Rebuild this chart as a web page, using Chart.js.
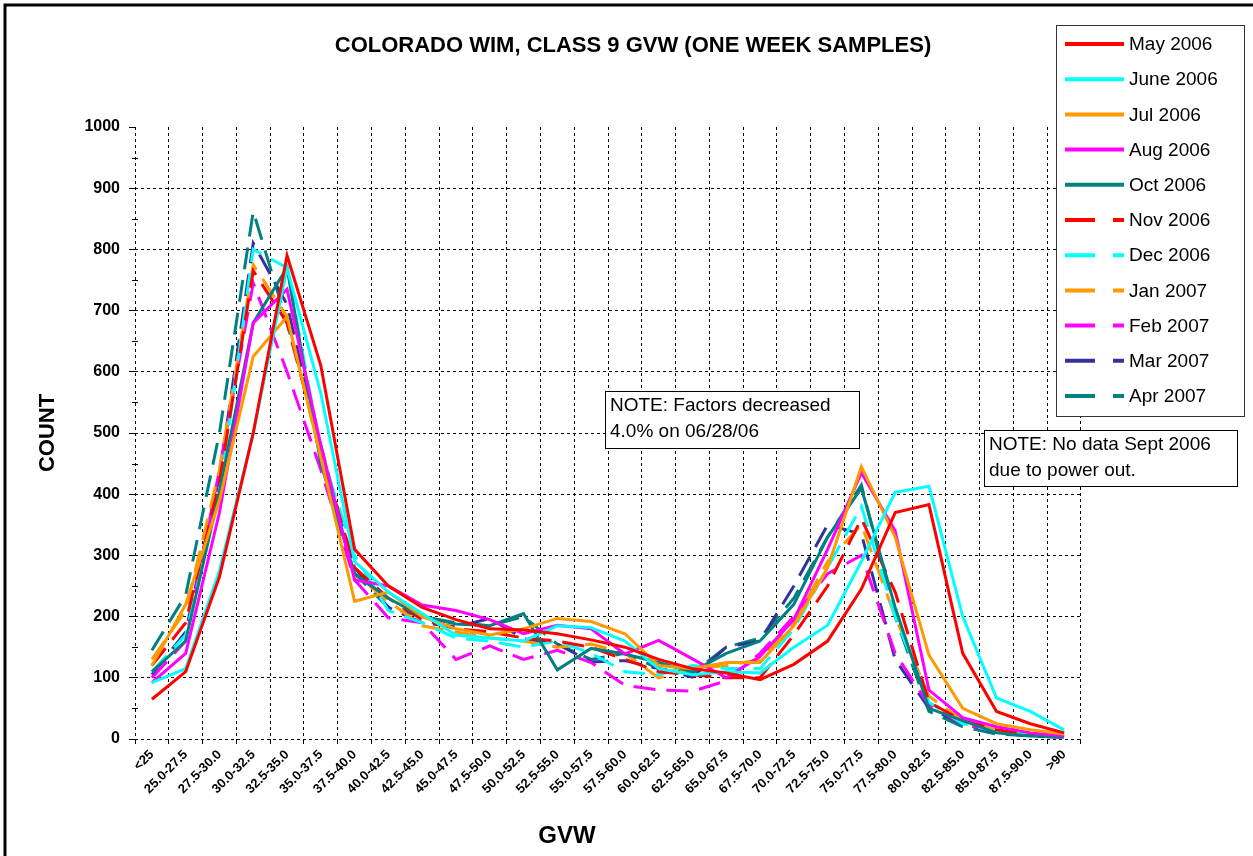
<!DOCTYPE html>
<html lang="en">
<head>
    <meta charset="UTF-8">
    <title>Colorado WIM, Class 9 GVW</title>
    <script src="https://cdn.jsdelivr.net/npm/chart.js"></script>
    <style>
        html, body { margin: 0; padding: 0; background: #fff; }
        #wrap { width: 1253px; height: 856px; position: relative; }
    </style>
</head>
<body>
    <div id="wrap"><canvas id="gvwChart" width="1253" height="856"></canvas></div>

    <script>
        // GVW bins (kips)
        const gvwBins = ['<25', '25.0-27.5', '27.5-30.0', '30.0-32.5', '32.5-35.0', '35.0-37.5', '37.5-40.0',
            '40.0-42.5', '42.5-45.0', '45.0-47.5', '47.5-50.0', '50.0-52.5', '52.5-55.0', '55.0-57.5',
            '57.5-60.0', '60.0-62.5', '62.5-65.0', '65.0-67.5', '67.5-70.0', '70.0-72.5', '72.5-75.0',
            '75.0-77.5', '77.5-80.0', '80.0-82.5', '82.5-85.0', '85.0-87.5', '87.5-90.0', '>90'];

        // counts per month
        const may2006 = [65, 110, 265, 500, 790, 610, 310, 250, 215, 195, 180, 178, 172, 162, 150, 130, 115, 108, 97, 122, 160, 245, 370, 383, 140, 45, 25, 10];
        const jun2006 = [92, 115, 275, 500, 770, 565, 290, 240, 205, 170, 165, 160, 185, 182, 160, 115, 105, 110, 108, 150, 186, 290, 403, 413, 200, 67, 45, 15];
        const jul2006 = [120, 220, 390, 625, 690, 460, 225, 240, 200, 180, 170, 180, 197, 192, 172, 120, 115, 125, 125, 185, 280, 445, 330, 137, 50, 25, 15, 8];
        const aug2006 = [92, 140, 370, 680, 735, 480, 260, 250, 219, 210, 195, 172, 186, 180, 139, 161, 131, 100, 135, 195, 310, 435, 340, 80, 35, 20, 10, 5];
        const oct2006 = [110, 160, 405, 680, 770, 450, 270, 230, 200, 188, 185, 205, 113, 148, 139, 125, 110, 140, 160, 220, 330, 410, 215, 50, 30, 10, 5, 3];
        const nov2006 = [120, 190, 420, 765, 680, 470, 280, 230, 195, 180, 175, 165, 160, 150, 130, 110, 105, 100, 100, 170, 250, 360, 240, 60, 30, 15, 8, 5];
        const dec2006 = [110, 170, 400, 800, 770, 470, 300, 210, 190, 165, 160, 150, 160, 140, 110, 105, 120, 115, 115, 180, 280, 380, 200, 60, 25, 12, 6, 3];
        const jan2007 = [130, 210, 440, 775, 690, 460, 270, 225, 185, 175, 165, 160, 150, 155, 140, 100, 115, 120, 130, 190, 290, 350, 200, 70, 30, 15, 8, 4];
        const feb2007 = [100, 160, 440, 745, 600, 440, 260, 198, 190, 130, 152, 130, 145, 125, 88, 80, 78, 95, 140, 200, 270, 300, 140, 55, 25, 12, 6, 3];
        const mar2007 = [105, 175, 430, 810, 710, 470, 280, 215, 190, 183, 197, 164, 155, 126, 128, 115, 101, 150, 160, 250, 350, 335, 130, 50, 25, 10, 5, 3];
        const apr2007 = [145, 235, 500, 862, 680, 480, 270, 215, 200, 190, 185, 200, 155, 130, 140, 115, 108, 150, 165, 230, 330, 415, 200, 45, 20, 8, 5, 3];

        const chartTitle = 'COLORADO WIM, CLASS 9 GVW (ONE WEEK SAMPLES)';
        const noteFactors = ['NOTE: Factors decreased', '4.0% on 06/28/06'];
        const notePower = ['NOTE: No data Sept 2006', 'due to power out.'];

        const FONT = '"Liberation Sans", Arial, sans-serif';
        const DASH = [22, 11];

        function series(label, data, color, dashed) {
            return {
                label: label,
                data: data,
                borderColor: color,
                backgroundColor: color,
                borderWidth: 3,
                borderDash: dashed ? DASH : [],
                pointRadius: 0,
                tension: 0,
                fill: false
            };
        }

        // draws title, axis titles, legend box and the two notes on top of the plot
        const decorPlugin = {
            id: 'decor',
            afterDraw(chart) {
                const ctx = chart.ctx;
                const area = chart.chartArea;
                const y = chart.scales.y;
                ctx.save();

                // minor ticks on the y axis
                ctx.strokeStyle = '#000';
                ctx.lineWidth = 1;
                for (let v = 50; v < 1000; v += 100) {
                    const py = Math.round(y.getPixelForValue(v)) + 0.5;
                    ctx.beginPath();
                    ctx.moveTo(area.left - 3, py);
                    ctx.lineTo(area.left + 3, py);
                    ctx.stroke();
                }

                // outer frame (top and left edges are the only ones visible)
                ctx.lineWidth = 3;
                ctx.beginPath();
                ctx.moveTo(5, 856);
                ctx.lineTo(5, 5);
                ctx.lineTo(1253, 5);
                ctx.stroke();

                ctx.fillStyle = '#000';
                ctx.textBaseline = 'middle';

                // title
                ctx.textAlign = 'center';
                ctx.font = 'bold 22px ' + FONT;
                ctx.fillText(chartTitle, 633, 46);

                // axis titles
                ctx.font = 'bold 24px ' + FONT;
                ctx.fillText('GVW', 567, 836);
                ctx.save();
                ctx.translate(48, 433);
                ctx.rotate(-Math.PI / 2);
                ctx.font = 'bold 22px ' + FONT;
                ctx.fillText('COUNT', 0, 0);
                ctx.restore();

                // legend
                ctx.fillStyle = '#fff';
                ctx.fillRect(1056, 25, 188, 391);
                ctx.strokeStyle = '#333';
                ctx.lineWidth = 1;
                ctx.strokeRect(1056.5, 25.5, 188, 391);
                chart.data.datasets.forEach((ds, i) => {
                    const cy = 44 + i * 35.2;
                    ctx.strokeStyle = ds.borderColor;
                    ctx.lineWidth = 4;
                    ctx.setLineDash(ds.borderDash.length ? [30, 18] : []);
                    ctx.beginPath();
                    ctx.moveTo(1065, cy);
                    ctx.lineTo(1124, cy);
                    ctx.stroke();
                    ctx.setLineDash([]);
                    ctx.fillStyle = '#000';
                    ctx.textAlign = 'left';
                    ctx.font = '19px ' + FONT;
                    ctx.fillText(ds.label, 1129, cy + 1);
                });

                // notes
                drawNote(ctx, 605, 391, 254, 57, noteFactors);
                drawNote(ctx, 984, 430, 253, 56, notePower);

                ctx.restore();
            }
        };

        function drawNote(ctx, x, y, w, h, lines) {
            ctx.fillStyle = '#fff';
            ctx.fillRect(x, y, w, h);
            ctx.strokeStyle = '#000';
            ctx.lineWidth = 1;
            ctx.strokeRect(x + 0.5, y + 0.5, w, h);
            ctx.fillStyle = '#000';
            ctx.textAlign = 'left';
            ctx.textBaseline = 'middle';
            ctx.font = '19px ' + FONT;
            lines.forEach((t, i) => ctx.fillText(t, x + 5, y + 15 + i * 26));
        }

        const datasets = [
            series('May 2006', may2006, '#FF0000', false),
            series('June 2006', jun2006, '#00FFFF', false),
            series('Jul 2006', jul2006, '#FF9900', false),
            series('Aug 2006', aug2006, '#FF00FF', false),
            series('Oct 2006', oct2006, '#008080', false),
            series('Nov 2006', nov2006, '#FF0000', true),
            series('Dec 2006', dec2006, '#00FFFF', true),
            series('Jan 2007', jan2007, '#FF9900', true),
            series('Feb 2007', feb2007, '#FF00FF', true),
            series('Mar 2007', mar2007, '#333399', true),
            series('Apr 2007', apr2007, '#008080', true)
        ];

        new Chart(document.getElementById('gvwChart').getContext('2d'), {
            type: 'line',
            data: { labels: gvwBins, datasets: datasets },
            options: {
                responsive: false,
                animation: false,
                devicePixelRatio: 1,
                layout: { padding: { top: 127, right: 172, left: 0, bottom: 0 } },
                plugins: {
                    legend: { display: false },
                    tooltip: { enabled: false },
                    title: { display: false }
                },
                scales: {
                    x: {
                        type: 'category',
                        offset: true,
                        grid: { offset: true, color: '#000', lineWidth: 1, tickLength: 5 },
                        border: { display: false, dash: [3, 3] },
                        ticks: {
                            autoSkip: false,
                            minRotation: 45,
                            maxRotation: 45,
                            color: '#000',
                            padding: 3,
                            font: { family: FONT, size: 13, weight: 'bold' }
                        },
                        afterFit(scale) { scale.height = 117; }
                    },
                    y: {
                        min: 0,
                        max: 1000,
                        grid: {
                            color: c => (c.tick && c.tick.value === 1000) ? 'rgba(0,0,0,0)' : '#000',
                            lineWidth: 1,
                            tickLength: 6,
                            tickColor: '#000'
                        },
                        border: { display: false, dash: [3, 3] },
                        ticks: {
                            stepSize: 100,
                            color: '#000',
                            padding: 9,
                            font: { family: FONT, size: 16, weight: 'bold' },
                            callback: value => String(value)
                        },
                        afterFit(scale) { scale.width = 135; }
                    }
                }
            },
            plugins: [decorPlugin]
        });
    </script>
</body>
</html>
